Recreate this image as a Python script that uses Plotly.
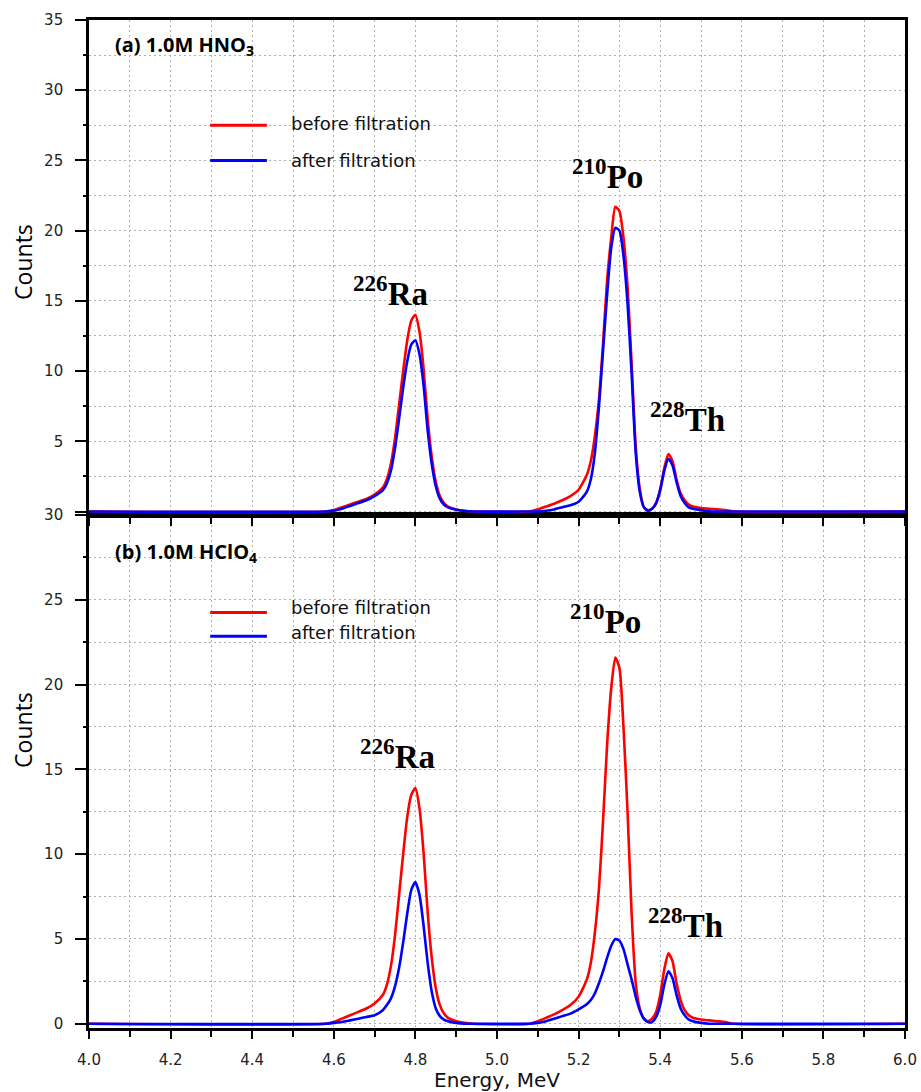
import plotly.graph_objects as go

# ---------------- data ----------------
energy = [4.00, 4.58, 4.60, 4.62, 4.64, 4.66, 4.68, 4.70, 4.72, 4.73, 4.74, 4.75,
          4.76, 4.77, 4.78, 4.79, 4.80, 4.81, 4.82, 4.83, 4.84, 4.85, 4.86, 4.87,
          4.88, 4.90, 4.92, 4.94,
          5.08, 5.10, 5.12, 5.14, 5.16, 5.18, 5.20, 5.22, 5.23, 5.24, 5.25, 5.26,
          5.27, 5.28, 5.29, 5.30, 5.31, 5.32, 5.33, 5.34, 5.35, 5.36, 5.37, 5.38,
          5.39, 5.40, 5.41, 5.42, 5.43, 5.44, 5.45, 5.46, 5.47, 5.48, 5.50, 5.52,
          5.54, 5.56, 5.58, 6.00]

# (a) 1.0M HNO3
a_before = [0, 0, 0.1, 0.3, 0.5, 0.7, 0.9, 1.2, 1.7, 2.3, 3.4, 5.2,
            7.6, 10.0, 12.2, 13.6, 14.0, 12.8, 10.2, 6.6, 3.9, 2.1, 1.1, 0.6,
            0.35, 0.15, 0.05, 0,
            0, 0.15, 0.35, 0.55, 0.8, 1.1, 1.55, 2.6, 3.6, 5.4, 8.0, 12.0,
            16.5, 19.5, 21.7, 21.4, 19.5, 16.0, 10.5, 4.6, 1.6, 0.3, 0.1, 0.2,
            0.6, 1.6, 3.1, 4.1, 3.6, 2.3, 1.3, 0.8, 0.5, 0.35, 0.25, 0.2,
            0.15, 0.1, 0, 0]
a_after = [0, 0, 0.05, 0.2, 0.4, 0.6, 0.8, 1.1, 1.5, 2.0, 2.9, 4.5,
           6.6, 8.8, 10.7, 11.9, 12.2, 11.2, 9.0, 5.8, 3.4, 1.8, 0.9, 0.5,
           0.3, 0.12, 0.04, 0,
           0, 0, 0.05, 0.15, 0.3, 0.45, 0.7, 1.4, 2.3, 4.2, 7.5, 11.5,
           15.5, 18.8, 20.2, 20.0, 18.2, 14.8, 9.8, 4.2, 1.4, 0.3, 0.05, 0.2,
           0.6, 1.5, 2.9, 3.75, 3.3, 2.1, 1.1, 0.6, 0.3, 0.2, 0.1, 0.02,
           0, 0, 0, 0]

# (b) 1.0M HClO4
b_before = [0, 0, 0.1, 0.3, 0.5, 0.7, 0.9, 1.2, 1.7, 2.3, 3.4, 5.2,
            7.6, 10.0, 12.2, 13.5, 13.9, 12.7, 10.1, 6.6, 3.9, 2.1, 1.1, 0.6,
            0.35, 0.15, 0.05, 0,
            0, 0.15, 0.35, 0.55, 0.8, 1.1, 1.6, 2.6, 3.6, 5.4, 8.0, 12.0,
            16.5, 19.8, 21.6, 21.0, 17.5, 12.5, 6.5, 2.4, 0.9, 0.3, 0.15, 0.3,
            0.7, 1.7, 3.2, 4.15, 3.7, 2.4, 1.4, 0.8, 0.5, 0.35, 0.25, 0.2,
            0.15, 0.1, 0, 0]
b_after = [0, 0, 0.05, 0.1, 0.2, 0.3, 0.4, 0.5, 0.8, 1.1, 1.5, 2.2,
           3.3, 4.8, 6.5, 7.9, 8.35, 7.6, 5.8, 3.6, 1.9, 0.9, 0.45, 0.25,
           0.15, 0.05, 0, 0,
           0, 0.05, 0.15, 0.3, 0.45, 0.6, 0.85, 1.15, 1.4, 1.8, 2.4, 3.1,
           3.9, 4.6, 5.0, 4.9, 4.4, 3.5, 2.6, 1.6, 0.8, 0.3, 0.1, 0.1,
           0.4, 1.1, 2.3, 3.1, 2.7, 1.7, 0.9, 0.5, 0.25, 0.15, 0.05, 0,
           0, 0, 0, 0]

x_ticks = [4.0, 4.2, 4.4, 4.6, 4.8, 5.0, 5.2, 5.4, 5.6, 5.8, 6.0]
top_y_ticks = [0, 5, 10, 15, 20, 25, 30, 35]
top_y_text = ["", "5", "10", "15", "20", "25", "30", "35"]
bot_y_ticks = [0, 5, 10, 15, 20, 25, 30]

# peak labels: (text, x, y)
peaks_a = [("<sup>226</sup>Ra", 4.738, 15.7), ("<sup>210</sup>Po", 5.27, 24.0),
           ("<sup>228</sup>Th", 5.466, 6.7)]
peaks_b = [("<sup>226</sup>Ra", 4.757, 15.9), ("<sup>210</sup>Po", 5.265, 23.85),
           ("<sup>228</sup>Th", 5.461, 5.96)]

RED = "#ff0000"
BLUE = "#0000ff"

fig = go.Figure()
for ys, col, xa, ya in [(b_before, RED, "x", "y"), (b_after, BLUE, "x", "y"),
                        (a_before, RED, "x2", "y2"), (a_after, BLUE, "x2", "y2")]:
    fig.add_trace(go.Scatter(x=energy, y=ys, mode="lines", xaxis=xa, yaxis=ya,
                             line=dict(color=col, width=2.6, shape="spline",
                                       smoothing=0.6),
                             showlegend=False, hoverinfo="skip"))

tick_font = dict(family="DejaVu Sans", size=15, color="#222222")
grid = dict(showgrid=True, griddash="2px,3px", gridcolor="#b0b0b0", gridwidth=1.2)

xcommon = dict(range=[4.0, 6.0], tickmode="array", tickvals=x_ticks,
               tickformat=".1f", ticks="outside", ticklen=8, tickwidth=2,
               tickcolor="black", showline=True, linecolor="black", linewidth=2.6,
               showgrid=False, zeroline=False, mirror=True, tickfont=tick_font,
               automargin=False, ticklabelstandoff=8,
               minor=dict(dtick=0.1, tick0=4.0, ticks="outside", ticklen=6,
                          tickwidth=2, tickcolor="black", **grid))
ycommon = dict(ticks="outside", ticklen=11, tickwidth=2, tickcolor="black",
               showline=True, linecolor="black", linewidth=2.6, showgrid=False,
               zeroline=False, mirror=True, tickfont=tick_font, automargin=False,
               ticklabelstandoff=9,
               minor=dict(dtick=2.5, tick0=0, ticks="outside", ticklen=3,
                          tickwidth=1.5, tickcolor="black", **grid))

# plot area at x 89..905, y 20..1028 (page body margin removed via post_script)
split = 0.5089
fig.update_layout(
    width=921, height=1092,
    margin=dict(l=89, r=16, t=20, b=64, autoexpand=False),
    paper_bgcolor="white", plot_bgcolor="white",
    xaxis=dict(anchor="y", **xcommon),
    yaxis=dict(domain=[0, split], range=[-0.25, 30], tickmode="array",
               tickvals=bot_y_ticks, anchor="x", **ycommon),
    xaxis2=dict(anchor="y2", matches="x", showticklabels=False, **xcommon),
    yaxis2=dict(domain=[split, 1], range=[-0.25, 35], tickmode="array",
                tickvals=top_y_ticks, ticktext=top_y_text, anchor="x2", **ycommon),
)

ann = []
# panel labels
ann.append(dict(text="(a) 1.0M HNO<sub>3</sub>", xref="x2", yref="y2", x=4.059, y=33.2,
                xanchor="left", yanchor="middle", showarrow=False,
                font=dict(family="Open Sans", size=20, color="black", weight="bold")))
ann.append(dict(text="(b) 1.0M HClO<sub>4</sub>", xref="x", yref="y", x=4.059, y=27.8,
                xanchor="left", yanchor="middle", showarrow=False,
                font=dict(family="Open Sans", size=20, color="black", weight="bold")))

# legends
leg_font = dict(family="DejaVu Sans", size=18, color="#111111")
fig.add_shape(type="line", xref="x2", yref="y2", x0=4.297, x1=4.436, y0=27.5, y1=27.5,
              line=dict(color=RED, width=3))
fig.add_shape(type="line", xref="x2", yref="y2", x0=4.297, x1=4.436, y0=25.0, y1=25.0,
              line=dict(color=BLUE, width=3))
ann.append(dict(text="before filtration", xref="x2", yref="y2", x=4.49, y=27.6,
                xanchor="left", yanchor="middle", showarrow=False, font=leg_font))
ann.append(dict(text="after filtration", xref="x2", yref="y2", x=4.49, y=25.0,
                xanchor="left", yanchor="middle", showarrow=False, font=leg_font))
fig.add_shape(type="line", xref="x", yref="y", x0=4.297, x1=4.436, y0=24.25, y1=24.25,
              line=dict(color=RED, width=3))
fig.add_shape(type="line", xref="x", yref="y", x0=4.297, x1=4.436, y0=22.85, y1=22.85,
              line=dict(color=BLUE, width=3))
ann.append(dict(text="before filtration", xref="x", yref="y", x=4.49, y=24.55,
                xanchor="left", yanchor="middle", showarrow=False, font=leg_font))
ann.append(dict(text="after filtration", xref="x", yref="y", x=4.49, y=23.1,
                xanchor="left", yanchor="middle", showarrow=False, font=leg_font))

# peak labels
pk_font = dict(family="Liberation Serif", size=33, color="black", weight="bold")
for t, px, py in peaks_a:
    ann.append(dict(text=t, xref="x2", yref="y2", x=px, y=py, xanchor="center",
                    yanchor="middle", showarrow=False, font=pk_font))
for t, px, py in peaks_b:
    ann.append(dict(text=t, xref="x", yref="y", x=px, y=py, xanchor="center",
                    yanchor="middle", showarrow=False, font=pk_font))

# axis titles
ttl_font = dict(family="Open Sans", size=23, color="black")
ann.append(dict(text="Counts", xref="paper", yref="paper", x=-0.081, y=(1028 - 262) / 1008,
                textangle=-90, xanchor="center", yanchor="middle", showarrow=False,
                font=ttl_font))
ann.append(dict(text="Counts", xref="paper", yref="paper", x=-0.081, y=(1028 - 730) / 1008,
                textangle=-90, xanchor="center", yanchor="middle", showarrow=False,
                font=ttl_font))
ann.append(dict(text="Energy, MeV", xref="paper", yref="paper", x=0.5, y=(1028 - 1080) / 1008,
                xanchor="center", yanchor="middle", showarrow=False,
                font=dict(family="DejaVu Sans", size=20, color="#111111")))

fig.update_layout(annotations=ann)
fig.write_html("out.html", config={"displayModeBar": False},
               post_script="document.body.style.margin='0';"
                           "document.documentElement.style.overflow='hidden';")
